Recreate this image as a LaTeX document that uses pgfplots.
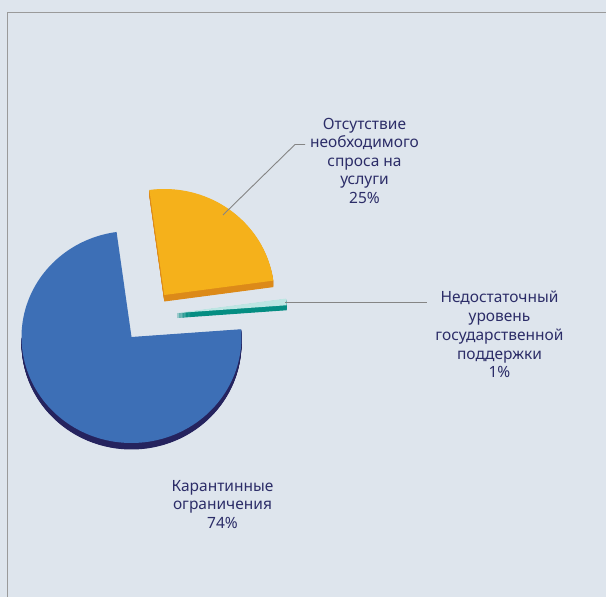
\documentclass[border=0pt]{standalone}
\usepackage{fontspec}
\setmainfont{Noto Sans}
\usepackage{pgfplots}
\pgfplotsset{compat=1.18}
\definecolor{bg}{HTML}{DEE5ED}
\definecolor{frame}{HTML}{9A9A9A}
\definecolor{txt}{HTML}{2C2D68}
\definecolor{lead}{HTML}{858585}
\definecolor{pblue}{HTML}{3D6FB6}
\definecolor{pbluerim}{HTML}{25235E}
\definecolor{pyel}{HTML}{F5B11B}
\definecolor{pyelrim}{HTML}{DC8A19}
\definecolor{pgrn}{HTML}{BDE6E3}
\definecolor{pgrnrim}{HTML}{048D82}
% pie values (percent)
\def\vA{74}% Карантинные ограничения
\def\vB{1}%  Недостаточный уровень государственной поддержки
\def\vC{25}% Отсутствие необходимого спроса на услуги
\def\startang{4.2}
\pgfmathsetmacro{\aA}{\startang-3.6*\vA}
\pgfmathsetmacro{\aB}{\startang+3.6*\vB}
\pgfmathsetmacro{\aC}{\aB+3.6*\vC}
\def\rx{110}
\def\ry{106}
% #1 start, #2 end, #3 cx, #4 cy, #5 colour
\newcommand{\sector}[5]{%
  \addplot[fill=#5, draw=none, domain=#1:#2, samples=120]
    ({#3+\rx*cos(x)},{#4-\ry*sin(x)}) -- (axis cs:#3,#4) -- cycle;}
\newcommand{\fontlab}{\fontsize{15.5}{18.6}\selectfont\color{txt}}
\begin{document}
\begin{tikzpicture}
\begin{axis}[
  width=606pt, height=597pt, scale only axis,
  xmin=0, xmax=606, ymin=0, ymax=597, y dir=reverse,
  hide axis, clip=true]
% background and frame
\addplot[fill=bg, draw=none] coordinates {(0,0) (606,0) (606,597) (0,597)} -- cycle;
\addplot[draw=frame, line width=0.9pt] coordinates {(7.2,600) (7.2,12.6) (610,12.6)};
% --- blue slice (Карантинные ограничения)
\pgfplotsinvokeforeach{6.5,6,5.5,5,4.5,4,3.5,3,2.5,2,1.5,1,0.5}{%
  \sector{180}{\startang+360}{131.5}{337+#1}{pbluerim}}
\sector{\aC}{\startang+360}{131.5}{337}{pblue}
% --- yellow slice (Отсутствие необходимого спроса)
\pgfplotsinvokeforeach{6.5,6,5.5,5,4.5,4,3.5,3,2.5,2,1.5,1,0.5}{%
  \sector{\aB}{\aC}{164.3}{295+#1}{pyelrim}}
\sector{\aB}{\aC}{164.3}{295}{pyel}
% --- green slice (Недостаточный уровень)
\pgfplotsinvokeforeach{5,4.5,4,3.5,3,2.5,2,1.5,1,0.5}{%
  \sector{\startang}{\aB}{177}{313+#1}{pgrnrim}}
\sector{\startang}{\aB}{177}{313}{pgrn}
% leader lines
\addplot[draw=lead, line width=0.9pt] coordinates {(223,215) (295,144.5) (305,144.5)};
\addplot[draw=lead, line width=0.9pt] coordinates {(285,302.3) (427,302.3)};
% labels
\node[anchor=base, inner sep=0, font=\fontlab] at (axis cs:364.5,129.3) {Отсутствие};
\node[anchor=base, inner sep=0, font=\fontlab] at (axis cs:364.5,147.8) {необходимого};
\node[anchor=base, inner sep=0, font=\fontlab] at (axis cs:364.5,166.3) {спроса на};
\node[anchor=base, inner sep=0, font=\fontlab] at (axis cs:364.5,184.8) {услуги};
\node[anchor=base, inner sep=0, font=\fontlab] at (axis cs:364.5,203.3) {25\%};
\node[anchor=base, inner sep=0, font=\fontlab] at (axis cs:499.5,302.7) {Недостаточный};
\node[anchor=base, inner sep=0, font=\fontlab] at (axis cs:499.5,321.5) {уровень};
\node[anchor=base, inner sep=0, font=\fontlab] at (axis cs:499.5,340.3) {государственной};
\node[anchor=base, inner sep=0, font=\fontlab] at (axis cs:499.5,359.0) {поддержки};
\node[anchor=base, inner sep=0, font=\fontlab] at (axis cs:499.5,377.7) {1\%};
\node[anchor=base, inner sep=0, font=\fontlab] at (axis cs:222.5,491.0) {Карантинные};
\node[anchor=base, inner sep=0, font=\fontlab] at (axis cs:222.5,509.6) {ограничения};
\node[anchor=base, inner sep=0, font=\fontlab] at (axis cs:222.5,528.3) {74\%};
\end{axis}
\end{tikzpicture}
\end{document}
